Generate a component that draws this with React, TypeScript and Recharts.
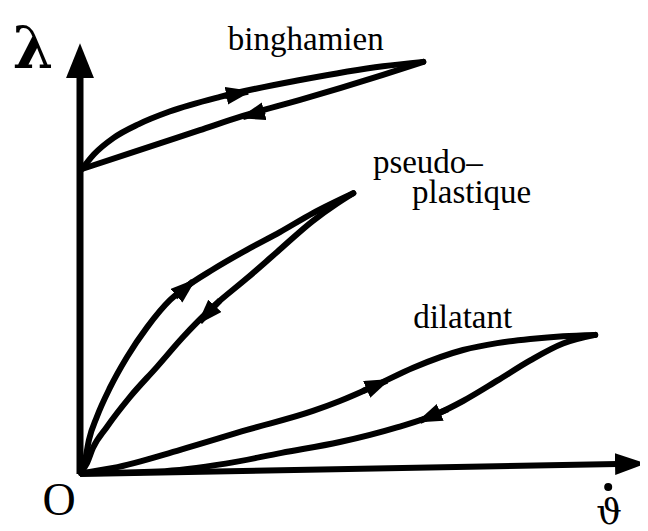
import React from 'react';
import { LineChart, Line, XAxis, YAxis, ReferenceDot } from 'recharts';

type Pt = [number, number];

// Coordinate axes (shear rate along x, shear stress along y)
const axisX: Pt[] = [[0, 0], [95.9, 2.3]];
const axisY: Pt[] = [[0, 0], [0, 92.1]];

// Bingham fluid: yield stress then hysteresis loop
const binghamUp: Pt[] = [
  [0.36, 70.6], [2.5, 74.0], [6.0, 77.8], [10.5, 81.0], [16.0, 83.9], [25.0, 87.3],
  [39.3, 91.2], [54.1, 94.4], [61.3, 95.4],
];
const binghamDown: Pt[] = [
  [0.36, 70.6], [9.5, 74.5], [21.4, 79.6], [29.1, 82.9], [39.3, 86.6],
  [54.1, 92.4], [61.3, 95.4],
];

// Pseudo-plastic loop
const pseudoUp: Pt[] = [
  [0.2, 0.5], [0.9, 3.2], [1.6, 7.9], [3.0, 13.2], [5.4, 20.1], [8.4, 27.1],
  [12.0, 34.0], [16.1, 40.3], [18.6, 43.0], [23.8, 47.4], [29.8, 51.9],
  [35.7, 56.0], [41.6, 60.4], [48.8, 65.0],
];
const pseudoDown: Pt[] = [
  [0.2, 0.5], [1.25, 2.5], [2.3, 6.0], [4.8, 10.9], [8.9, 17.8], [13.75, 24.8],
  [18.4, 31.7], [23.75, 38.7], [29.8, 45.3], [35.2, 51.4], [41.6, 58.6],
  [45.9, 62.6], [48.8, 65.0],
];

// Dilatant loop
const dilatantUp: Pt[] = [
  [0.2, 0.2], [5.9, 1.4], [17.9, 5.6], [29.8, 10.2], [41.6, 14.6], [46.4, 16.9],
  [52.3, 20.2], [59.5, 24.6], [68.4, 28.7], [74.5, 30.3], [80.4, 31.25],
  [86.25, 31.9], [92.0, 32.2],
];
const dilatantDown: Pt[] = [
  [0.2, 0.2], [14.0, 0.6], [26.0, 2.4], [36.0, 4.9], [46.4, 7.4], [56.6, 10.8],
  [63.75, 13.9], [68.4, 16.9], [74.5, 21.6], [80.4, 26.3], [86.25, 30.2], [92.0, 32.2],
];

// Direction arrows along each branch: [from, to]
const flowArrows: Pt[][] = [
  [[25.9, 87.5], [30.0, 88.5]],
  [[33.0, 84.0], [29.1, 82.6]],
  [[17.0, 41.0], [20.2, 44.6]],
  [[25.0, 40.2], [21.4, 35.2]],
  [[50.5, 19.2], [54.8, 21.6]],
  [[65.7, 15.0], [60.7, 12.3]],
];

// Curve names and axis symbols
const curveLabels: { text: string; x: number; y: number }[] = [
  { text: 'binghamien', x: 26.4, y: 98.1 },
  { text: 'pseudo–', x: 52.3, y: 69.7 },
  { text: 'plastique', x: 59.3, y: 62.7 },
  { text: 'dilatant', x: 59.5, y: 33.8 },
];
const originLabel = { text: 'O', x: -3.75, y: -9.5 };
const stressLabel = { text: 'λ', x: -12.0, y: 94.0 };
const rateLabel = { text: 'ϑ', x: 94.5, y: -11.6 };

const rows = (pts: Pt[]) => pts.map(([x, y]) => ({ x, y }));

const INK = '#000';
const SERIF = '"Liberation Serif", "Times New Roman", serif';

const branches = [binghamUp, binghamDown, pseudoUp, pseudoDown, dilatantUp, dilatantDown];

export default function App() {
  return (
    <div style={{ width: 640, height: 523, background: '#fff', position: 'relative' }}>
      <svg width={0} height={0} style={{ position: 'absolute' }}>
        <defs>
          <marker id="headY" markerUnits="userSpaceOnUse" markerWidth={38} markerHeight={30}
            refX={2} refY={14} orient="auto">
            <path d="M0,0 L35,14 L0,28 Z" fill={INK} />
          </marker>
          <marker id="headX" markerUnits="userSpaceOnUse" markerWidth={34} markerHeight={24}
            refX={2} refY={11} orient="auto">
            <path d="M0,0 L31,11 L0,22 Z" fill={INK} />
          </marker>
          <marker id="headFlow" markerUnits="userSpaceOnUse" markerWidth={28} markerHeight={20}
            refX={22} refY={9} orient="auto">
            <path d="M0,0 L26,9 L0,18 Z" fill={INK} />
          </marker>
        </defs>
      </svg>
      <LineChart width={640} height={523} margin={{ top: 34, right: 8, bottom: 57, left: 72 }}>
        <XAxis type="number" dataKey="x" domain={[0, 100]} hide />
        <YAxis type="number" dataKey="y" domain={[0, 100]} hide />

        <Line data={rows(axisY)} dataKey="y" type="linear" stroke={INK} strokeWidth={7}
          dot={false} activeDot={false} isAnimationActive={false} markerEnd="url(#headY)" />
        <Line data={rows(axisX)} dataKey="y" type="linear" stroke={INK} strokeWidth={6}
          dot={false} activeDot={false} isAnimationActive={false} markerEnd="url(#headX)" />

        {branches.map((b, i) => (
          <Line key={`b${i}`} data={rows(b)} dataKey="y" type="monotone" stroke={INK}
            strokeWidth={6} strokeLinecap="round" dot={false} activeDot={false}
            isAnimationActive={false} />
        ))}

        {flowArrows.map((a, i) => (
          <Line key={`a${i}`} data={rows(a)} dataKey="y" type="linear" stroke={INK}
            strokeWidth={6} dot={false} activeDot={false} isAnimationActive={false}
            markerEnd="url(#headFlow)" />
        ))}

        {curveLabels.map((l) => (
          <ReferenceDot key={l.text} x={l.x} y={l.y} r={0} ifOverflow="visible"
            shape={(p: any) => (
              <text x={p.cx} y={p.cy} fontFamily={SERIF} fontSize={33} fill={INK}>{l.text}</text>
            )} />
        ))}

        <ReferenceDot x={originLabel.x} y={originLabel.y} r={0} ifOverflow="visible"
          shape={(p: any) => (
            <text x={p.cx} y={p.cy} textAnchor="middle" fontFamily={SERIF} fontSize={46} fill={INK}>
              {originLabel.text}
            </text>
          )} />
        <ReferenceDot x={stressLabel.x} y={stressLabel.y} r={0} ifOverflow="visible"
          shape={(p: any) => (
            <text x={p.cx} y={p.cy} fontFamily='"DejaVu Serif", serif' fontSize={58}
              fontWeight="bold" fill={INK}>
              {stressLabel.text}
            </text>
          )} />
        <ReferenceDot x={rateLabel.x} y={rateLabel.y} r={0} ifOverflow="visible"
          shape={(p: any) => (
            <g>
              <text x={p.cx} y={p.cy} textAnchor="middle" fontFamily='"DejaVu Serif", serif'
                fontSize={36} fill={INK}>
                {rateLabel.text}
              </text>
              <circle cx={p.cx - 1} cy={p.cy - 37} r={4} fill={INK} />
            </g>
          )} />
      </LineChart>
    </div>
  );
}
